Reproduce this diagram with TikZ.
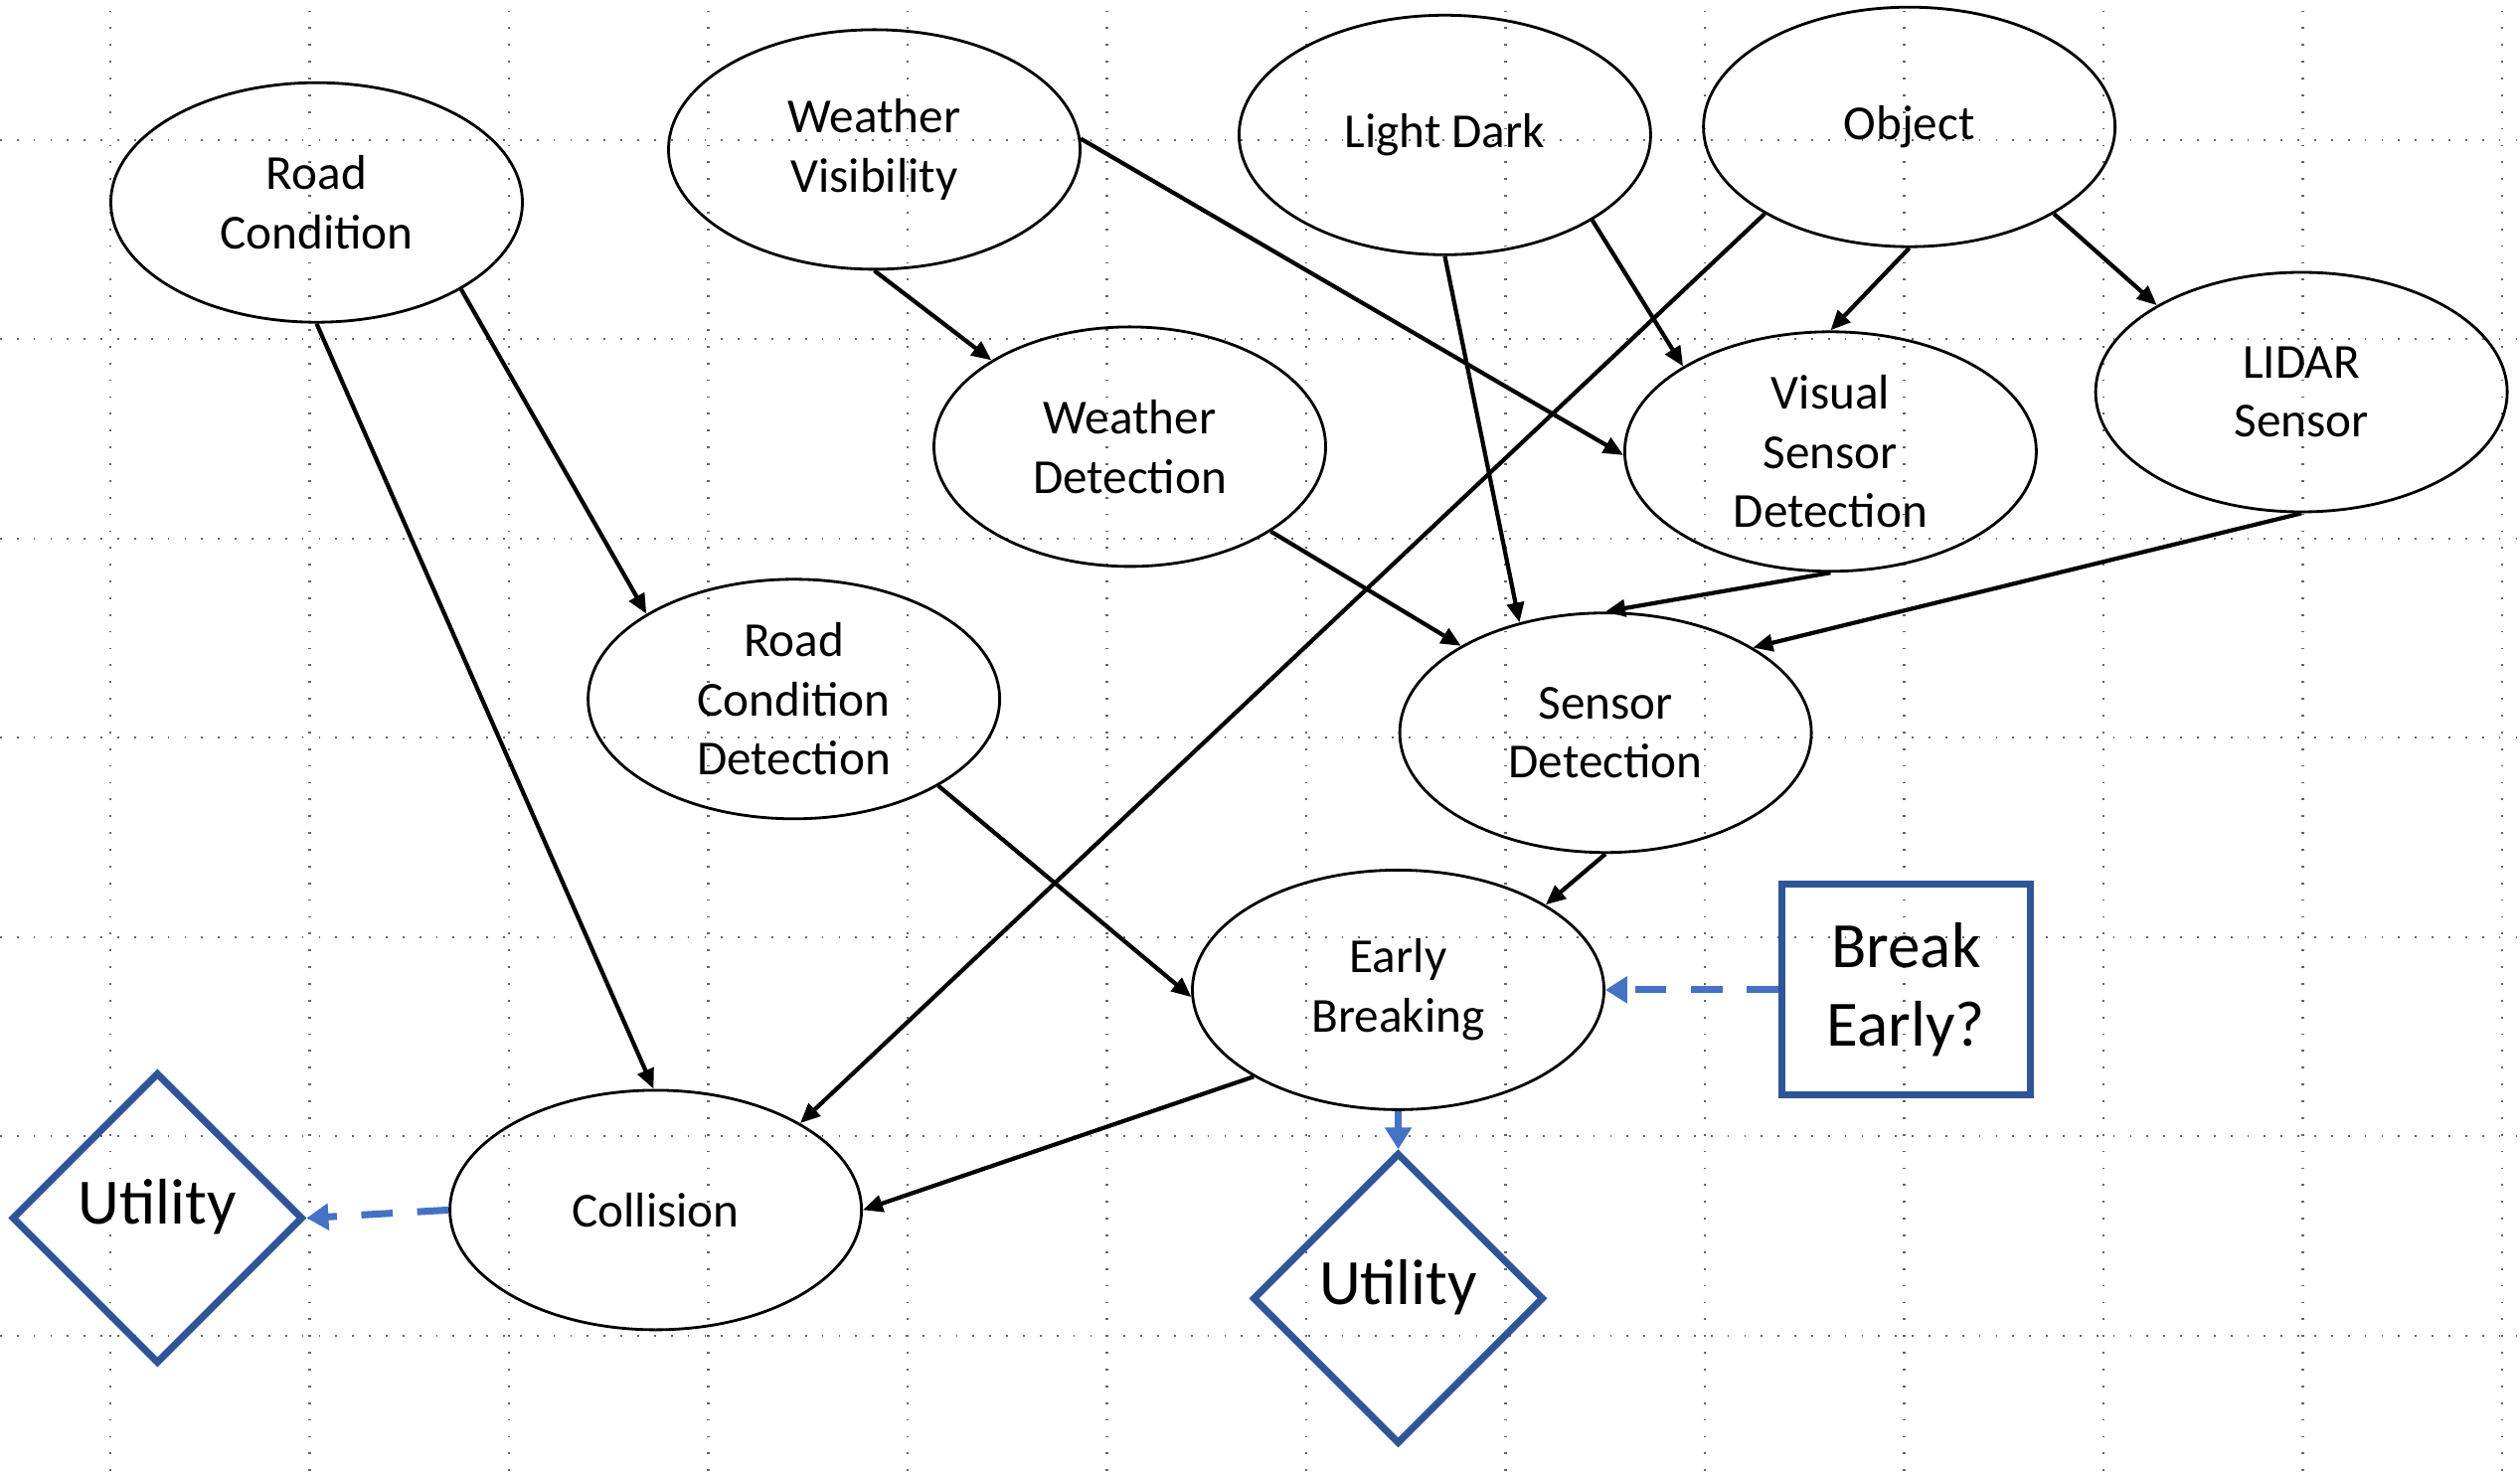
\documentclass[tikz,border=0pt]{standalone}
\usepackage{fontspec}
\setmainfont{Carlito}
\usepackage{tikz}
\usetikzlibrary{arrows.meta}
\usetikzlibrary{shapes.geometric}
\usetikzlibrary{positioning}
\definecolor{utilblue}{HTML}{2F5597}
\definecolor{infoblue}{HTML}{4472C4}
\tikzset{chance/.style = {draw, ellipse, line width = 0.8pt, minimum width = 4.14cm, minimum height = 2.41cm, inner sep = 0, align = center, font = \fontsize{14}{17}\selectfont}}
\tikzset{utility/.style = {draw = utilblue, diamond, line width = 2pt, minimum width = 2.93cm, minimum height = 2.93cm, inner sep = 0, text height = 0.5cm, text depth = 0.38cm, font = \fontsize{18.5}{22.5}\selectfont}}
\tikzset{decision/.style = {draw = utilblue, rectangle, line width = 2pt, minimum width = 2.5cm, minimum height = 2.12cm, inner sep = 0, align = center, font = \fontsize{18.5}{22.5}\selectfont}}
\tikzset{link/.style = {-{Triangle[length = 0.2cm, width = 0.17cm]}, line width = 1.2pt}}
\tikzset{infolink/.style = {-{Triangle[length = 0.22cm, width = 0.26cm]}, infoblue, line width = 2pt, dash pattern = on 9pt off 7pt}}
\tikzset{gridline/.style = {black!60, line width = 0.6pt, dash pattern = on 0.5pt off 4.3pt}}

\begin{document}
\begin{tikzpicture}
      \useasboundingbox (0, 0) rectangle (25.35, 14.80);
      \foreach \k in {0, ..., 6} {
        \draw [gridline] (0, 13.394 - 2.005*\k) -- (25.35, 13.394 - 2.005*\k);
      }
      \foreach \k in {0, ..., 12} {
        \draw [gridline] (1.11 + 2.005*\k, 0) -- (1.11 + 2.005*\k, 14.80);
      }

      \node [chance] (rc) at (3.185, 12.763) {Road\\Condition};
      \node [chance] (wv) at (8.795, 13.296) {Weather\\Visibility};
      \node [chance] (ld) at (14.534, 13.442) {Light Dark};
      \node [chance] (obj) at (19.206, 13.523) {Object};
      \node [chance, minimum width = 3.94cm] (wd) at (11.365, 10.306) {Weather\\Detection};
      \node [chance] (vsd) at (18.414, 10.257) {Visual\\Sensor\\Detection};
      \node [chance] (lidar) at (23.151, 10.855) {LIDAR\\Sensor};
      \node [chance] (rcd) at (7.986, 7.767) {Road\\Condition\\Detection};
      \node [chance] (sd) at (16.151, 7.428) {Sensor\\Detection};
      \node [chance] (eb) at (14.065, 4.841) {Early\\Breaking};
      \node [chance] (col) at (6.596, 2.626) {Collision};
      \node [utility] (ucol) at (1.584, 2.545) {Utility};
      \node [utility] (ueb) at (14.065, 1.737) {Utility};
      \node [decision] (brk) at (19.174, 4.841) {Break\\Early?};

      \draw [link] (rc.south) -- (col.91);
      \draw [link] (rc.-31) -- (rcd.150);
      \draw [link] (wv.south) -- (wd.148);
      \draw [link] (wv.3) -- (vsd.181);
      \draw [link] (ld.south) -- (sd.128);
      \draw [link] (ld.-30) -- (vsd.150);
      \draw [link] (obj.211) -- (col.31);
      \draw [link] (obj.south) -- (vsd.north);
      \draw [link] (obj.-31) -- (lidar.149);
      \draw [link] (wd.-31) -- (sd.149);
      \draw [link] (vsd.south) -- (sd.north);
      \draw [link] (lidar.south) -- (sd.30);
      \draw [link] (rcd.-31) -- (eb.182);
      \draw [link] (sd.south) -- (eb.30);
      \draw [link] (eb.211) -- (col.east);

      \draw [infolink] (col.west) -- (ucol.east);
      \draw [infolink] (eb.south) -- (ueb.north);
      \draw [infolink] (brk.west) -- (eb.east);
    \end{tikzpicture}
\end{document}
